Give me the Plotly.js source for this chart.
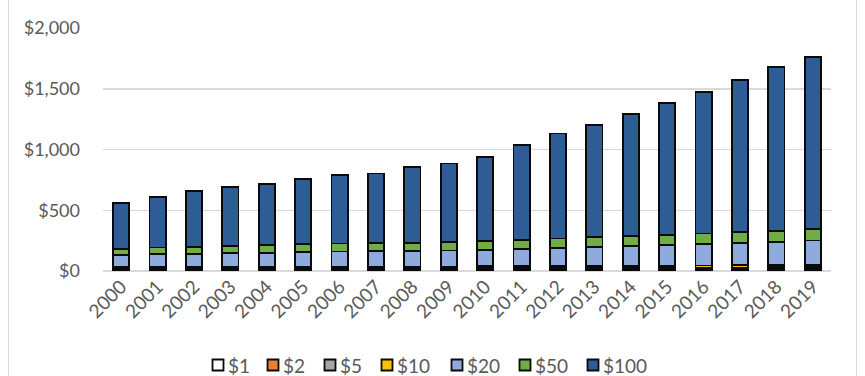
<!DOCTYPE html>
<html>
<head>
<meta charset="utf-8">
<script src="https://cdn.plot.ly/plotly-3.0.1.min.js"></script>
<style>
  html, body { margin:0; padding:0; background:#fff; overflow:hidden; }
  #wrap { position:relative; width:865px; height:376px; }
  #chart { width:865px; height:376px; }
  #frame { position:absolute; left:8px; top:-10px; width:849px; height:400px;
           border:1.5px solid #d9d9d9; pointer-events:none; box-sizing:border-box; }
</style>
</head>
<body>
<div id="wrap"><div id="chart"></div><div id="frame"></div></div>
<script>
const years = ['2000','2001','2002','2003','2004','2005','2006','2007','2008','2009',
               '2010','2011','2012','2013','2014','2015','2016','2017','2018','2019'];
const d1   = [7.7, 8.0, 8.3, 8.6, 8.9, 9.3, 9.7, 9.9, 10.1, 10.2, 10.4, 10.8, 11.0, 11.4, 11.6, 11.7, 11.9, 12.1, 12.3, 12.6];
const d2   = [1.2, 1.3, 1.4, 1.4, 1.5, 1.5, 1.5, 1.6, 1.6, 1.7, 1.8, 1.8, 1.9, 2.0, 2.1, 2.1, 2.2, 2.3, 2.3, 2.4];
const d5   = [8.6, 9.0, 9.4, 9.6, 9.8, 10.1, 10.4, 10.7, 10.8, 11.0, 11.1, 11.4, 11.8, 12.0, 12.4, 13.0, 13.8, 14.6, 15.3, 16.1];
const d10  = [14.9, 14.7, 14.4, 14.3, 14.6, 14.9, 15.0, 15.0, 14.6, 14.6, 14.7, 15.1, 15.5, 16.3, 16.5, 16.9, 17.5, 18.3, 19.1, 20.4];
const d20  = [98, 104, 108, 111, 116, 121, 124, 126, 128, 132, 138, 144, 152, 158, 166, 172, 177, 184, 191, 200];
const d50  = [54, 56, 59, 62, 62, 64, 65, 66, 67, 68, 69, 72, 75, 78, 81, 83, 86, 90, 92, 97];
const d100 = [377, 417, 455, 487, 503, 536, 567, 574, 621, 648, 696, 782, 865, 922, 1000, 1086, 1164, 1253, 1345, 1416];

const seriesNames  = ['$1','$2','$5','$10','$20','$50','$100'];
const seriesVals   = [d1, d2, d5, d10, d20, d50, d100];
const seriesColors = ['#ffffff','#ed7d31','#a5a5a5','#ffc000','#8faadc','#70ad47','#2e5c95'];

const traces = seriesNames.map((n, i) => ({
  type: 'bar',
  name: n,
  x: years,
  y: seriesVals[i],
  marker: { color: seriesColors[i], line: { color: '#0a0a0a', width: 1.8 } },
  hoverinfo: 'x+y+name'
}));

const fam = 'Lato, "Open Sans", sans-serif';
const yfont = { family: fam, size: 18, color: '#595959' };
const xfont = { family: fam, size: 19, color: '#595959' };

// Plot-area geometry (pixels) used to place the legend row below the axis.
const W = 865, H = 376, ML = 103, MR = 34, MT = 28, MB = 105;
const pw = W - ML - MR, ph = H - MT - MB;
const px2x = p => (p - ML) / pw;
const py2y = p => (H - MB - p) / ph;

// Legend row: swatch centre x for each entry, row centre y.
const legendCx = [218, 273, 330, 387, 457, 525, 593];
const legendCy = 365, sw = 11;

const shapes = seriesNames.map((n, i) => ({
  type: 'rect', xref: 'paper', yref: 'paper',
  x0: px2x(legendCx[i] - sw / 2), x1: px2x(legendCx[i] + sw / 2),
  y0: py2y(legendCy + sw / 2), y1: py2y(legendCy - sw / 2),
  fillcolor: seriesColors[i], line: { color: '#0a0a0a', width: 1.8 }
}));
const annotations = seriesNames.map((n, i) => ({
  xref: 'paper', yref: 'paper', showarrow: false,
  x: px2x(legendCx[i] + sw / 2 + 2), y: py2y(legendCy),
  xanchor: 'left', yanchor: 'middle', text: n, font: xfont
}));

const layout = {
  width: W, height: H,
  margin: { l: ML, r: MR, t: MT, b: MB, autoexpand: false },
  paper_bgcolor: '#fff', plot_bgcolor: '#fff',
  barmode: 'stack',
  bargap: 0.56,
  font: yfont,
  showlegend: false,
  shapes: shapes,
  annotations: annotations,
  xaxis: {
    type: 'category', tickangle: -45, showgrid: false, zeroline: false,
    showline: false, ticks: '', tickfont: xfont, automargin: false
  },
  yaxis: {
    range: [0, 2000], dtick: 500, tickprefix: '$', tickformat: ',',
    showgrid: true, gridcolor: '#d9d9d9', gridwidth: 1.5,
    zeroline: true, zerolinecolor: '#d9d9d9', zerolinewidth: 1.5,
    showline: false, ticks: '', tickfont: yfont, ticklabelstandoff: 22, automargin: false
  }
};

Plotly.newPlot('chart', traces, layout, { displayModeBar: false, staticPlot: true });
</script>
</body>
</html>
